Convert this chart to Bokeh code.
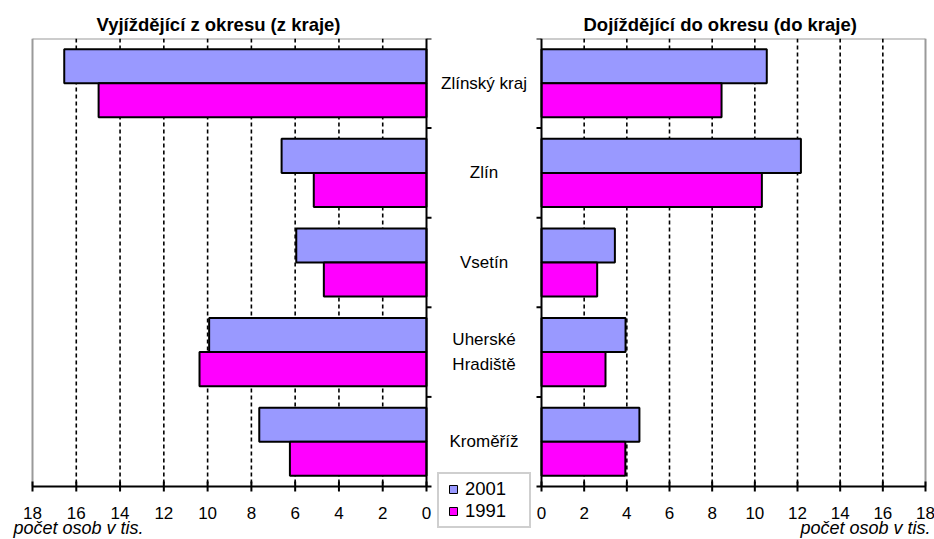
import math
from bokeh.plotting import figure
from bokeh.layouts import row
from bokeh.models import Range1d, ColumnDataSource, Legend, LegendItem
from bokeh.core.properties import value
from bokeh.embed import file_html
from bokeh.resources import INLINE

# ---- data ----
categories = ["Zlínský kraj", "Zlín", "Vsetín", "Uherské\nHradiště", "Kroměříž"]
years = ["2001", "1991"]
out_2001 = [16.55, 6.62, 5.95, 9.93, 7.64]   # Vyjíždějící
out_1991 = [14.98, 5.15, 4.69, 10.37, 6.24]
in_2001 = [10.56, 12.16, 3.44, 3.94, 4.59]    # Dojíždějící
in_1991 = [8.44, 10.33, 2.61, 3.00, 3.93]
x_ticks = [0, 2, 4, 6, 8, 10, 12, 14, 16, 18]
left_title = "Vyjíždějící z okresu (z kraje)"
right_title = "Dojíždějící do okresu (do kraje)"
unit_label = "počet osob v tis."

# ---- style / layout ----
FONT = "Liberation Sans"
C2001 = "#9999ff"
C1991 = "#ff00ff"
GRAY = "#9a9a9a"
BAR_H = 0.38
FS = "17px"
H = 539
TOP = 38
SLOT = 89.6                       # px per category
n = len(categories)
pos = list(range(n))
bounds = [i - 0.5 for i in range(n + 1)]
xmax = max(x_ticks)
y_low = n - 0.5 + (H - TOP - n * SLOT) / SLOT
PXL = 394 / xmax                  # px per unit, left panel
PXR = 384 / xmax                  # px per unit, right panel


def make_fig(width, x_range, title=None, title_offset=0):
    p = figure(width=width, height=H, x_range=x_range, y_range=Range1d(y_low, -0.5),
               x_axis_type=None, y_axis_type=None, output_backend="svg",
               toolbar_location=None, min_border=0, min_border_top=TOP,
               outline_line_color=None, background_fill_color="white",
               border_fill_color="white")
    if title:
        p.title.text = title
        p.title.align = "left"
        p.title.offset = title_offset
        p.title.text_font = FONT
        p.title.text_font_size = "18.5px"
        p.title.text_font_style = "bold"
        p.title.text_color = "black"
        p.title.standoff = 8
    return p


def draw_panel(p, a, b, px, unit_align, unit_xoff):
    base = n - 0.5
    # frame border (gray) : top edge and outer edge
    p.segment(x0=[0, xmax], y0=[-0.5, -0.5], x1=[xmax, xmax], y1=[-0.5, base],
              line_color=GRAY, line_width=2)
    # dashed grid lines
    inner = x_ticks[1:-1]
    p.segment(x0=inner, x1=inner, y0=[-0.5] * len(inner), y1=[base] * len(inner),
              line_color="black", line_dash="4 3", line_width=1.6)
    # bars
    src = ColumnDataSource(dict(
        ya=[i - BAR_H / 2 for i in pos], yb=[i + BAR_H / 2 for i in pos], a=a, b=b))
    p.hbar(y="ya", left=0, right="a", height=BAR_H, source=src,
           fill_color=C2001, line_color="black", line_width=2)
    p.hbar(y="yb", left=0, right="b", height=BAR_H, source=src,
           fill_color=C1991, line_color="black", line_width=2)
    # axes lines
    p.segment(x0=[0, 0], y0=[-0.5, base], x1=[0, xmax], y1=[base, base],
              line_color="black", line_width=2)
    # category boundary ticks (pointing outward, towards the middle)
    p.segment(x0=[0] * len(bounds), x1=[-5 / px] * len(bounds), y0=bounds, y1=bounds,
              line_color="black", line_width=2)
    # value ticks crossing the axis
    p.scatter(x=x_ticks, y=[base] * len(x_ticks), marker="dash", size=10,
              angle=math.pi / 2, line_color="black", line_width=2)
    # tick labels
    p.text(x=x_ticks, y=[base] * len(x_ticks), text=[str(t) for t in x_ticks],
           text_align="center", text_baseline="middle", y_offset=26,
           text_font=value(FONT), text_font_size=FS, text_color="black")
    # unit label
    p.text(x=[xmax], y=[base], text=[unit_label], text_align=unit_align,
           text_baseline="middle", x_offset=unit_xoff, y_offset=41,
           text_font=value(FONT), text_font_size="18px", text_font_style="italic",
           text_color="black")


# ---- left panel (reversed axis) ----
pl = make_fig(436, Range1d(xmax + 32 / PXL, -10 / PXL), left_title, 96)
draw_panel(pl, out_2001, out_1991, PXL, "left", -19)

# ---- middle: category labels + legend ----
pm = make_fig(95, Range1d(0, 1))
pm.text(x=[0.5] * n, y=pos, text=categories, text_align="center",
        text_baseline="middle", text_font=value(FONT), text_font_size=FS,
        text_line_height=1.3, text_color="black")
dummy = ColumnDataSource(dict(x=[float("nan")], y=[float("nan")]))
r1 = pm.scatter(x="x", y="y", marker="square", source=dummy, fill_color=C2001,
                line_color="black", line_width=1)
r2 = pm.scatter(x="x", y="y", marker="square", source=dummy, fill_color=C1991,
                line_color="black", line_width=1)
legend = Legend(items=[LegendItem(label=years[0], renderers=[r1]),
                       LegendItem(label=years[1], renderers=[r2])],
                location=(1, 11), orientation="vertical", margin=0,
                label_text_font=FONT, label_text_font_size="18.5px",
                label_text_color="black",
                glyph_width=20, glyph_height=20, label_standoff=2,
                label_height=20, label_width=60, spacing=0, padding=4,
                border_line_color="#a0a0a0", border_line_width=2,
                background_fill_color="white", background_fill_alpha=1)
pm.add_layout(legend)

# ---- right panel ----
pr = make_fig(403, Range1d(-10 / PXR, xmax + 9 / PXR), right_title, 52)
draw_panel(pr, in_2001, in_1991, PXR, "right", 5)

layout = row(pl, pm, pr)
open("out.html", "w").write(file_html(layout, INLINE))
